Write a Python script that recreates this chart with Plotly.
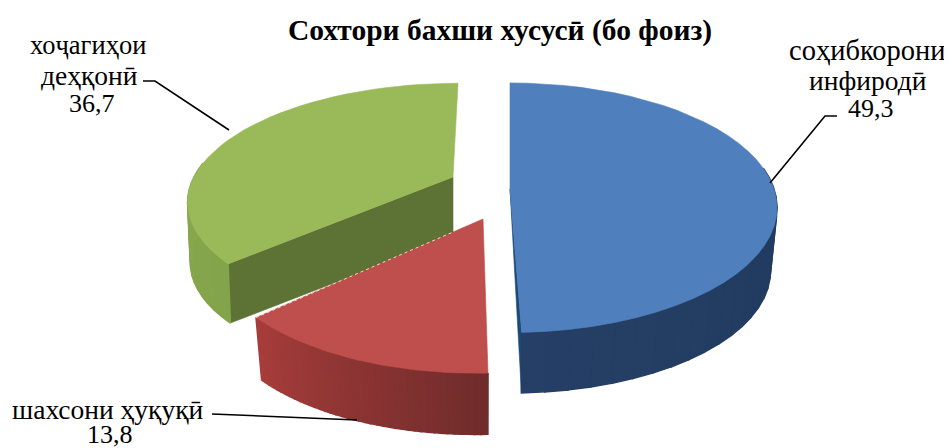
import math
import plotly.graph_objects as go

# ---- data ----
categories = ["соҳибкорони инфиродӣ", "шахсони ҳуқуқӣ", "хоҷагиҳои деҳқонӣ"]
values = [49.3, 13.8, 36.7]
value_labels = ["49,3", "13,8", "36,7"]
title_text = "Сохтори бахши хусусӣ (бо фоиз)"

# ---- styling / projection of the tilted 3D pie (pixel-based axes) ----
SLICE = [
    dict(ax=510, ay=189, rx=264, ry=122, k=0.15, sk=0, s=0.975, D=64,
         top="#4F7FBC", inner="#1B4A78", wall_a="#1D3557", wall_b="#253F66", tri=True, radial=True),
    dict(ax=483, ay=219, rx=272, ry=132, k=0.144, sk=6, s=0.975, D=65,
         top="#BE4F4C", inner="#A33C3A", wall_a="#702C2B", wall_b="#A83D3B", tri=False, radial=False),
    dict(ax=453, ay=177, rx=259, ry=112, k=0.195, sk=6, s=0.99, D=60,
         top="#9ABA59", inner="#5D7335", wall_a="#84A44B", wall_b="#8FAF52", tri=False, radial=True),
]
DRAW_ORDER = [2, 0, 1]
N_ARC = 40


def hexmix(a, b, t):
    ca = [int(a[i:i + 2], 16) for i in (1, 3, 5)]
    cb = [int(b[i:i + 2], 16) for i in (1, 3, 5)]
    return "rgb(%d,%d,%d)" % tuple(round(x + (y - x) * t) for x, y in zip(ca, cb))


def project(p, theta, r=1.0, bottom=False):
    u, v = r * math.sin(theta), r * math.cos(theta)
    den = 1 + p["k"] * v
    sc = p["s"] if bottom else 1.0
    off = p["D"] if bottom else 0
    return (p["ax"] + sc * (p["rx"] * u + p["sk"] * v) / den,
            p["ay"] + off - sc * p["ry"] * v / den)


def poly(xs, ys, color, width=0.6):
    return go.Scatter(x=xs, y=ys, mode="lines", fill="toself", fillcolor=color,
                      line=dict(color=color, width=width),
                      hoverinfo="skip", showlegend=False)


total = sum(values)
fig = go.Figure()
cum = [0.0]
for val in values:
    cum.append(cum[-1] + val)

for i in DRAW_ORDER:
    p = SLICE[i]
    a0 = cum[i] / total * 2 * math.pi
    a1 = cum[i + 1] / total * 2 * math.pi
    angs = [a0 + (a1 - a0) * j / N_ARC for j in range(N_ARC + 1)]
    # radial inner wall
    if p["radial"]:
        edge = a1 if i == 0 else a0
        t_ap = project(p, edge, 0)
        t_rim = project(p, edge)
        b_rim = project(p, edge, bottom=True)
        b_ap = project(p, edge, 0, bottom=True)
        if p["tri"]:
            xs, ys = zip(t_ap, t_rim, b_rim, t_ap)
        else:
            xs, ys = zip(t_ap, t_rim, b_rim, b_ap, t_ap)
        fig.add_trace(poly(list(xs), list(ys), p["inner"]))
    # outer wall, strip by strip
    for j in range(N_ARC):
        m = (angs[j] + angs[j + 1]) / 2
        if math.cos(m) > 0.15:
            continue
        pts = [project(p, angs[j]), project(p, angs[j + 1]),
               project(p, angs[j + 1], bottom=True), project(p, angs[j], bottom=True)]
        xs = [q[0] for q in pts] + [pts[0][0]]
        ys = [q[1] for q in pts] + [pts[0][1]]
        fig.add_trace(poly(xs, ys, hexmix(p["wall_a"], p["wall_b"], j / N_ARC), width=1.6))
    # top face
    rim = [project(p, t) for t in angs]
    ap = project(p, 0, 0)
    xs = [ap[0]] + [q[0] for q in rim] + [ap[0]]
    ys = [ap[1]] + [q[1] for q in rim] + [ap[1]]
    fig.add_trace(poly(xs, ys, p["top"]))

# pale seam along the red slice's rear edge
pr = SLICE[1]
a_end = cum[2] / total * 2 * math.pi
c0 = project(pr, a_end)
c1 = project(pr, a_end, 0.14)
fig.add_trace(go.Scatter(x=[c0[0], c1[0]], y=[c0[1], c1[1]], mode="lines",
                         line=dict(color="#E9DDBF", width=1, dash="dot"),
                         hoverinfo="skip", showlegend=False))

# leader lines
LEADERS = [
    ([770, 825, 837], [183, 116, 116]),
    ([212, 357], [414, 420]),
    ([143, 155, 229], [81, 81, 130]),
]
for xs, ys in LEADERS:
    fig.add_trace(go.Scatter(x=xs, y=ys, mode="lines", line=dict(color="#000000", width=1.6),
                             hoverinfo="skip", showlegend=False))

FONT = "Liberation Serif"
LBL = 27.5
NUM = 26
# label lines with their centre positions
label_lines = [
    ("соҳибкорони", 867, 50, 28.5), ("инфиродӣ", 868, 80, LBL), (value_labels[0], 871, 108, NUM),
    ("шахсони ҳуқуқӣ", 108, 409, LBL), (value_labels[1], 110, 434, NUM),
    ("хоҷагиҳои", 88, 45, 26.5), ("деҳқонӣ", 89, 75, LBL), (value_labels[2], 92, 103, NUM),
]
annotations = [dict(x=x, y=y, text=t, showarrow=False, xanchor="center", yanchor="middle",
                    font=dict(family=FONT, size=fs, color="#000000"))
               for t, x, y, fs in label_lines]
annotations.append(dict(x=500, y=30, text="<b>%s</b>" % title_text, showarrow=False,
                        xanchor="center", yanchor="middle",
                        font=dict(family=FONT, size=29.5, color="#000000")))

# the page keeps an 8px body margin, so the figure covers window pixels 8..952 / 8..448
fig.update_layout(
    width=944, height=440, margin=dict(l=0, r=0, t=0, b=0),
    paper_bgcolor="white", plot_bgcolor="white", showlegend=False,
    xaxis=dict(range=[8, 952], visible=False, fixedrange=True),
    yaxis=dict(range=[448, 8], visible=False, fixedrange=True),
    annotations=annotations,
)
fig.write_html("out.html")
